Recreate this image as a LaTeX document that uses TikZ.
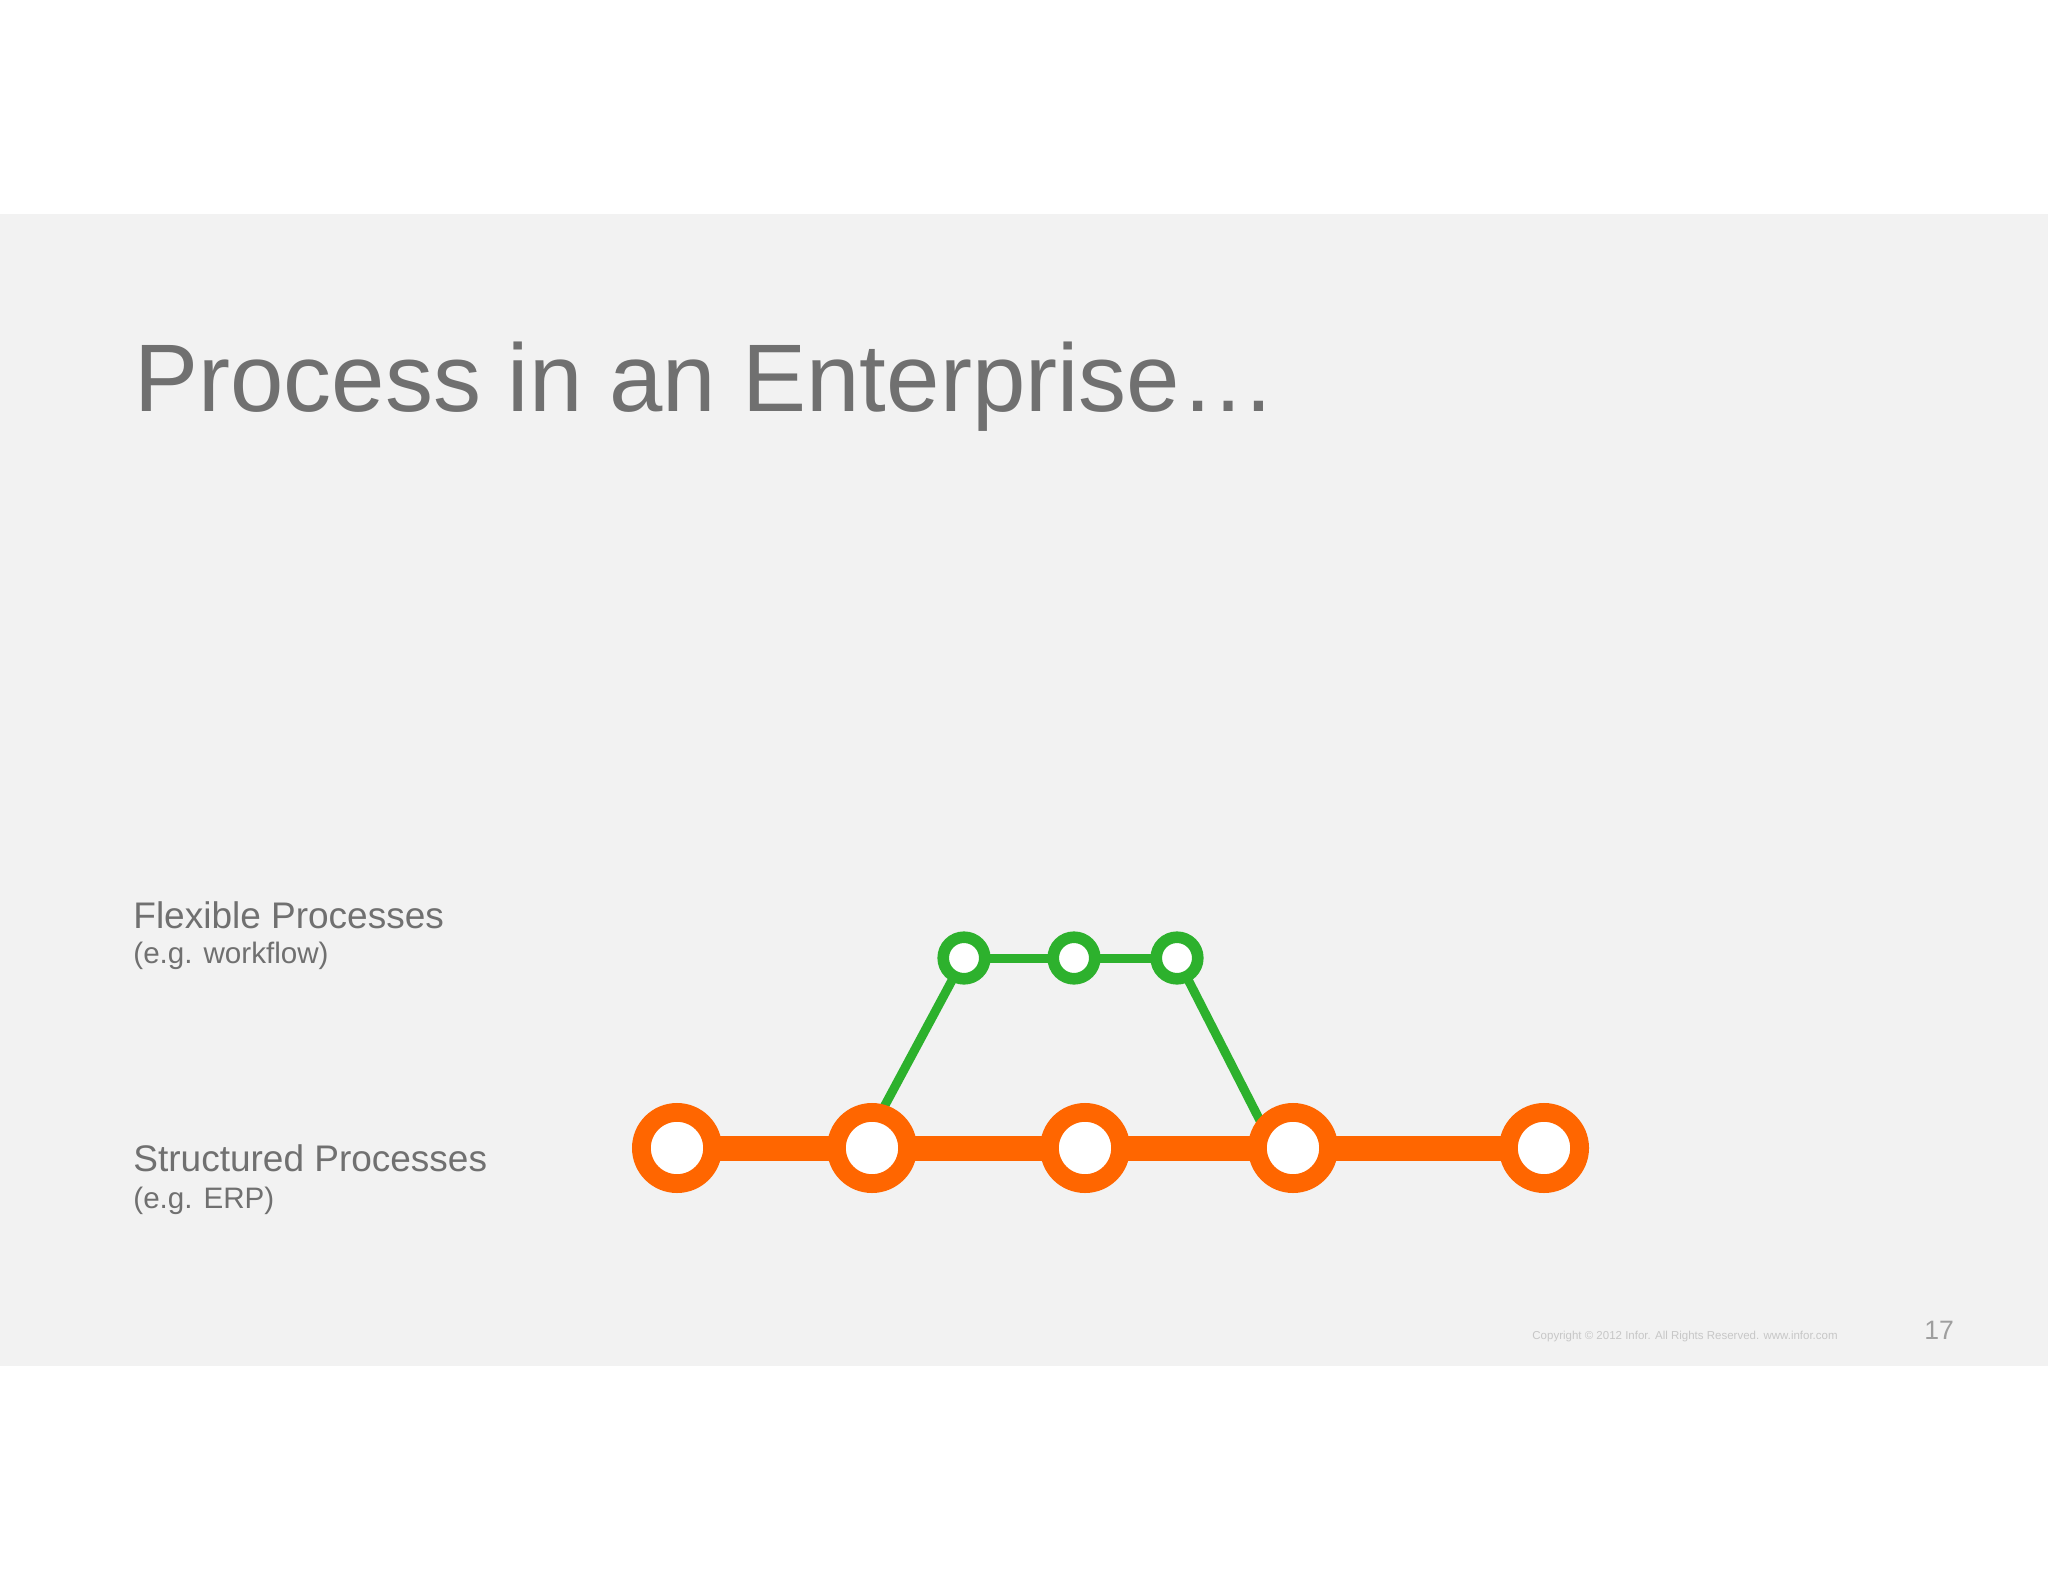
\documentclass[tikz,border=0pt]{standalone}
\usepackage{fontspec}
\setmainfont{Liberation Sans}
\usepackage{tikz}
\usetikzlibrary{positioning}
\definecolor{slidegray}{HTML}{F2F2F2}
\definecolor{textgray}{HTML}{707070}
\definecolor{erporange}{HTML}{FF6600}
\definecolor{flowgreen}{HTML}{2DB12D}
\tikzstyle{erp} = [circle, draw=erporange, fill=white, line width=9.4pt, minimum size=35.6pt, inner sep=0pt, outer sep=0pt]
\tikzstyle{flow} = [circle, draw=flowgreen, fill=white, line width=5.8pt, minimum size=20.8pt, inner sep=0pt, outer sep=0pt]
\tikzstyle{erpline} = [erporange, line width=12.5pt]
\tikzstyle{flowline} = [flowgreen, line width=4.5pt]
\tikzstyle{label} = [anchor=base west, inner sep=0pt, text=textgray]
\pgfdeclarelayer{slide}
\pgfdeclarelayer{back}
\pgfsetlayers{slide,back,main}

\begin{document}
\begin{tikzpicture}[x=0.5pt, y=-0.5pt]
\useasboundingbox (0,0) rectangle (2048,1582);
\begin{pgfonlayer}{slide}
\fill [white] (0,0) rectangle (2048,1582);
\fill [slidegray] (0,214) rectangle (2048,1366);
\end{pgfonlayer}

\node [label, font=\fontsize{48}{58}\selectfont] (title) at (134,412) {Process in an Enterprise\ldots};

\node [label, font=\fontsize{18.5}{22}\selectfont] (flex) at (133,928) {Flexible Processes};
\node [label, font=\fontsize{14.8}{18}\selectfont] (flexsub) at (133,963) {(e.g. workflow)};
\node [label, font=\fontsize{18.5}{22}\selectfont] (struct) at (133,1171) {Structured Processes};
\node [label, font=\fontsize{14.8}{18}\selectfont] (structsub) at (133,1208) {(e.g. ERP)};

\node [erp] (e1) at (677,1148) {};
\node [erp] (e2) at (872,1148) {};
\node [erp] (e3) at (1085,1148) {};
\node [erp] (e4) at (1293,1148) {};
\node [erp] (e5) at (1544,1148) {};

\node [flow] (f1) at (964,958) {};
\node [flow] (f2) at (1074,958) {};
\node [flow] (f3) at (1177,958) {};

\begin{pgfonlayer}{back}
\draw [erpline] (e1.center) to (e2.center);
\draw [erpline] (e2.center) to (e3.center);
\draw [erpline] (e3.center) to (e4.center);
\draw [erpline] (e4.center) to (e5.center);

\draw [flowline] ([xshift=-5pt]e2.center) to (f1.center);
\draw [flowline] (f1.center) to (f2.center);
\draw [flowline] (f2.center) to (f3.center);
\draw [flowline] (f3.center) to ([xshift=-9.5pt]e4.center);
\end{pgfonlayer}

\node [anchor=base west, inner sep=0pt, text=black!22, font=\fontsize{5.75}{7}\selectfont] (copy) at (1532,1339) {Copyright \textcopyright{} 2012 Infor. All Rights Reserved. www.infor.com};
\node [anchor=base west, inner sep=0pt, text=black!38, font=\fontsize{13.3}{16}\selectfont] (page) at (1924,1339) {17};
\end{tikzpicture}
\end{document}
